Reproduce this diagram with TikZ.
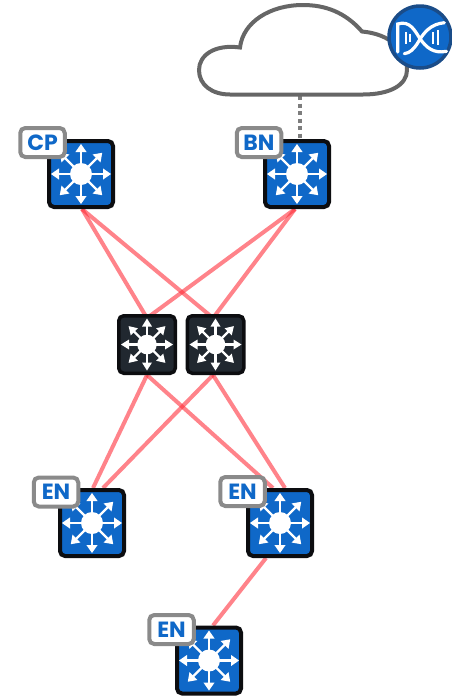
\documentclass[tikz,border=0pt]{standalone}
\usepackage{fontspec}
\setmainfont{Poppins}
\usetikzlibrary{backgrounds}
\definecolor{swblue}{HTML}{0F68C8}
\definecolor{swedge}{HTML}{0C0D10}
\definecolor{swdark}{HTML}{212830}
\definecolor{tagedge}{HTML}{8A8A8A}
\definecolor{cloudedge}{HTML}{666666}
\definecolor{badgeedge}{HTML}{1A4C88}
\definecolor{linkred}{HTML}{FF2A36}
\tikzset{
  x=1pt,y=-1pt,
  switchbox/.style={rectangle,rounded corners=5pt,draw=swedge,inner sep=0pt},
  bluebox/.style={switchbox,fill=swblue,line width=4pt,minimum width=64pt,minimum height=66pt},
  darkbox/.style={switchbox,fill=swdark,line width=3.5pt,minimum width=56.5pt,minimum height=57.5pt},
  tagbox/.style={rectangle,rounded corners=5pt,draw=tagedge,line width=4pt,fill=white,text=swblue,
    font=\fontsize{22}{22}\selectfont\bfseries,inner sep=0pt,minimum width=44.5pt,minimum height=29pt},
  link/.style={draw=linkred,draw opacity=.58,line width=4pt},
  cloudline/.style={draw=cloudedge,line width=4pt,fill=white},
  uplink/.style={draw=cloudedge!85!white,line width=4pt,dash pattern=on 4pt off 3.5pt},
  badge/.style={circle,fill=swblue,draw=badgeedge,line width=3.5pt,minimum size=62pt,inner sep=0pt},
  strand/.style={draw=white,line width=3.2pt,line cap=round},
  bar/.style={draw=white,line width=2.2pt}
}
% \arrowicon{node}{tip radius}{hub radius}{head half width}
\newcommand{\arrowicon}[4]{%
  \fill[white] (#1) circle[radius=#3];
  \foreach \ang in {0,45,...,315}{%
    \begin{scope}[shift={(#1)},rotate=\ang]
      \draw[white,line width=2.3pt] (0,0) -- (#2-6,0);
      \fill[white] (#2,0) -- (#2-8,-#4) -- (#2-8,#4) -- cycle;
    \end{scope}}%
}
\begin{document}
\begin{tikzpicture}
\useasboundingbox (0,0) rectangle (452,697);
% cloud
\path[cloudline] (230,94.5) -- (363,94.5) .. controls (390,94.5) and (407,85) .. (407,70)
  .. controls (407,50) and (390,34) .. (362,31.5)
  .. controls (345,12) and (325,5) .. (303,5)
  .. controls (270,5) and (243,22) .. (240,47.5)
  .. controls (215,44) and (199,55) .. (199,70)
  .. controls (199,85) and (212,94.5) .. (230,94.5) -- cycle;
\coordinate (cloudfoot) at (300,96);
% badge
\node[badge] (dna) at (420,37) {};
\draw[strand] (397.7,52) -- (397.7,24) .. controls (410,20) and (415,31) .. (420,38.7)
  .. controls (426,47) and (433,54) .. (446.5,51.3);
\draw[strand] (444.3,22.7) .. controls (431,24) and (424,32) .. (418.3,42)
  .. controls (414,49) and (410,53) .. (404.3,53.7);
\draw[bar] (405.7,32) -- (405.7,43.7);
\draw[bar] (410.3,33.7) -- (410.3,42);
\draw[bar] (433.3,32) -- (433.3,43.7);
\draw[bar] (437.7,30.3) -- (437.7,45.3);
% switches
\node[bluebox] (cp) at (81,174) {};
\node[bluebox] (bn) at (297,174) {};
\node[darkbox] (d1) at (147,344.5) {};
\node[darkbox] (d2) at (215.5,344.5) {};
\node[bluebox] (en1) at (92,523) {};
\node[bluebox] (en2) at (280,523) {};
\node[bluebox] (en3) at (209,660.5) {};
\arrowicon{cp}{30}{11}{5.6}
\arrowicon{bn}{30}{11}{5.6}
\arrowicon{en1}{30}{11}{5.6}
\arrowicon{en2}{30}{11}{5.6}
\arrowicon{en3}{30}{11}{5.6}
\arrowicon{d1}{26}{9.8}{5}
\arrowicon{d2}{26}{9.8}{5}
% tags
\node[tagbox] (tcp) at (42.5,142.5) {CP};
\node[tagbox] (tbn) at (259,142.5) {BN};
\node[tagbox] (ten1) at (56,492) {EN};
\node[tagbox] (ten2) at (242.5,491.5) {EN};
\node[tagbox] (ten3) at (171.5,629.5) {EN};
% connectors
\begin{scope}[on background layer]
  \draw[uplink] (cloudfoot) -- ([xshift=3pt]bn.north);
  \draw[link] ([xshift=1pt]cp.south) -- ([yshift=-4pt]d1.north);
  \draw[link] ([xshift=1pt]cp.south) -- ([xshift=-2.5pt,yshift=-4pt]d2.north);
  \draw[link] ([xshift=-2pt]bn.south) -- ([yshift=-4pt]d1.north);
  \draw[link] ([xshift=-2pt]bn.south) -- ([xshift=-2.5pt,yshift=-4pt]d2.north);
  \draw[link] (d1.south) -- ([xshift=1pt]en1.north);
  \draw[link] (d1.south) -- ([xshift=-7pt]en2.north);
  \draw[link] ([xshift=-2.5pt]d2.south) -- ([xshift=11pt]en1.north);
  \draw[link] ([xshift=-2.5pt]d2.south) -- ([xshift=5pt]en2.north);
  \draw[link] ([xshift=-14pt]en2.south) -- ([xshift=4pt]en3.north);
\end{scope}
\end{tikzpicture}
\end{document}
